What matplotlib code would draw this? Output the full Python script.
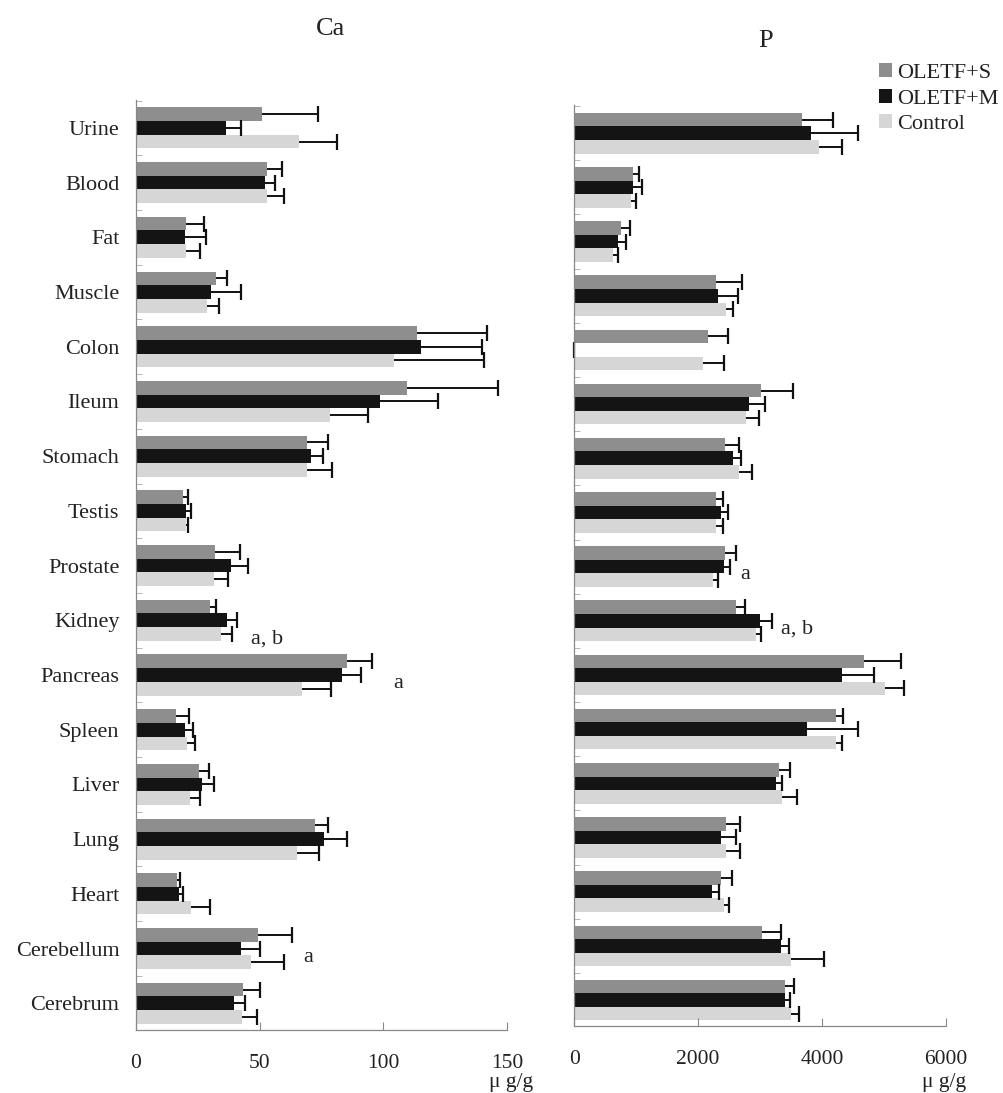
import numpy as np
import matplotlib
matplotlib.use("Agg")
import matplotlib.pyplot as plt
from matplotlib.patches import Patch

plt.rcParams['font.family'] = ['Liberation Serif', 'DejaVu Serif']

# organs, top to bottom as in the figure
organs = ["Urine", "Blood", "Fat", "Muscle", "Colon", "Ileum", "Stomach", "Testis",
          "Prostate", "Kidney", "Pancreas", "Spleen", "Liver", "Lung", "Heart",
          "Cerebellum", "Cerebrum"]
groups = ["OLETF+S", "OLETF+M", "Control"]

# Ca (ug/g) mean and SD
ca_s = [51, 53.1, 20, 32.5, 113.8, 109.7, 69, 19, 32.1, 30.1, 85.5, 16, 25.4, 72.4, 16.6, 49.4, 43.2]
ca_s_err = [22.7, 6, 7.4, 4.1, 28.1, 36.5, 8.6, 2, 9.9, 2.4, 10.1, 5.3, 4.3, 5.2, 1.1, 13.8, 6.8]
ca_m = [36.2, 52, 19.6, 30.5, 115.4, 98.7, 70.9, 20, 38.2, 36.9, 83.4, 19.7, 26.8, 76, 17.3, 42.3, 39.5]
ca_m_err = [6.1, 4, 8.5, 11.8, 24.6, 23.5, 4.8, 2.3, 7, 4, 7.5, 3.4, 4.9, 9.2, 1.7, 7.8, 4.7]
ca_c = [65.9, 53, 20, 28.5, 104.3, 78.4, 69, 20, 31.5, 34.2, 67.2, 20.7, 21.7, 65.2, 22.3, 46.3, 42.8]
ca_c_err = [15.5, 6.8, 6, 5, 36.5, 15.4, 10.4, 1, 5.6, 4.7, 11.5, 3.3, 4.1, 8.8, 7.5, 13.7, 6]

# P (ug/g) mean and SD
p_s = [3672, 950, 763, 2290, 2155, 3013, 2439, 2290, 2439, 2611, 4673, 4228, 3307, 2450, 2370, 3039, 3404]
p_s_err = [508, 96, 134, 412, 322, 519, 214, 106, 172, 150, 606, 108, 172, 226, 177, 295, 138]
p_m = [3822, 950, 709, 2316, 0, 2814, 2557, 2370, 2423, 2997, 4315, 3762, 3254, 2370, 2226, 3334, 3404]
p_m_err = [760, 150, 123, 321, 0, 268, 134, 107, 92, 203, 519, 820, 107, 241, 117, 134, 74]
p_c = [3950, 924, 629, 2450, 2075, 2772, 2664, 2290, 2236, 2933, 5022, 4218, 3361, 2450, 2423, 3495, 3495]
p_c_err = [365, 80, 80, 107, 348, 214, 204, 106, 80, 80, 294, 97, 240, 226, 70, 535, 139]

# significance marks: (text, x value, y position)
ca_marks = [("a, b", 46.3, 6.58), ("a", 104.2, 5.76), ("a", 67.8, 0.75)]
p_marks = [("a", 2680, 7.77), ("a, b", 3340, 6.77)]

colors = ["#8e8e8e", "#141414", "#d6d6d6"]
txt = "#222222"

n = len(organs)
pos = np.arange(n)[::-1]
bh = 0.25
offs = [bh, 0, -bh]

fig = plt.figure(figsize=(10.04, 10.93), dpi=100)
ax1 = fig.add_axes([0.1355, 0.0576, 0.3695, 0.8509])
ax2 = fig.add_axes([0.5719, 0.0613, 0.3703, 0.8426])


def draw(ax, vals, errs, xmax, step, marks):
    for k in range(3):
        v = np.array(vals[k], float)
        e = np.array(errs[k], float)
        y = pos + offs[k]
        ax.barh(y, v, height=bh, color=colors[k], linewidth=0)
        ax.hlines(y, v, v + e, color="#111111", linewidth=1.4)
        ax.plot(v + e, y, linestyle="none", marker="|", markersize=11,
                markeredgewidth=1.6, color="#111111", clip_on=False)
    for t, x, y in marks:
        ax.text(x, y, t, fontsize=16, color=txt, va="baseline", ha="left")
    ax.set_xlim(0, xmax)
    ax.set_xticks(np.arange(0, xmax + 1, step))
    ax.tick_params(axis="x", direction="in", length=6, width=0.8, color="#888888",
                   pad=17, labelsize=15.5, labelcolor=txt)
    ax.set_yticks(pos)
    ax.set_yticks(np.arange(-0.5, n, 1), minor=True)
    ax.tick_params(axis="y", which="major", length=0, pad=12, labelsize=16, labelcolor=txt)
    ax.tick_params(axis="y", which="minor", direction="in", length=4, width=0.6, color="#aaaaaa")
    for s in ["top", "right"]:
        ax.spines[s].set_visible(False)
    for s in ["left", "bottom"]:
        ax.spines[s].set_color("#888888")
        ax.spines[s].set_linewidth(0.9)


draw(ax1, [ca_s, ca_m, ca_c], [ca_s_err, ca_m_err, ca_c_err], 150, 50, ca_marks)
ax1.set_ylim(-0.49, 16.51)
ax1.set_yticklabels(organs)

draw(ax2, [p_s, p_m, p_c], [p_s_err, p_m_err, p_c_err], 6000, 2000, p_marks)
ax2.set_ylim(-0.48, 16.52)
ax2.set_yticklabels([])

fig.text(331 / 1004, 1 - 35 / 1093, "Ca", fontsize=19, color=txt, ha="center", va="baseline")
fig.text(766 / 1004, 1 - 47 / 1093, "P", fontsize=19, color=txt, ha="center", va="baseline")
fig.text(511 / 1004, 1 - 1083 / 1093, "\u03bc g/g", fontsize=15.5, color=txt, ha="center", va="center")
fig.text(944 / 1004, 1 - 1083 / 1093, "\u03bc g/g", fontsize=15.5, color=txt, ha="center", va="center")

handles = [Patch(facecolor=c, edgecolor="none") for c in colors]
fig.legend(handles, groups, loc="upper left", bbox_to_anchor=(879 / 1004, 1 - 63 / 1093),
           frameon=False, fontsize=16, handlelength=0.6, handleheight=0.6,
           handletextpad=0.2, labelspacing=0.26, borderaxespad=0, borderpad=0,
           labelcolor=txt)

fig.savefig("out.png", dpi=100)
